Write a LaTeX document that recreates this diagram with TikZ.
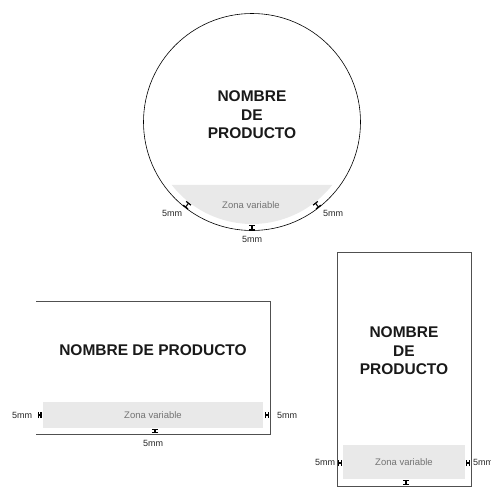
\documentclass[tikz,border=0pt]{standalone}
\usepackage{fontspec}
\setmainfont{Liberation Sans}
\usetikzlibrary{arrows.meta}
\definecolor{zona-gray}{RGB}{233,233,233}
\definecolor{edge-gray}{RGB}{80,80,80}
\tikzset{
  titulo/.style={font=\fontsize{15.5}{18.5}\selectfont\bfseries, align=center, text=black!90, inner sep=0pt},
  zona/.style={font=\fontsize{9.5}{11}\selectfont, text=black!55, inner sep=0pt},
  medida/.style={font=\fontsize{9}{11}\selectfont, text=black!85, inner sep=0pt},
  marca/.style={{Bar[width=6pt, line width=1.2pt]}-{Bar[width=6pt, line width=1.2pt]}, line width=1.1pt}
}

\begin{document}
\begin{tikzpicture}[x=1pt, y=-1pt]
\useasboundingbox (0,0) rectangle (491,490);

\coordinate (centro) at (252,122);
\fill[zona-gray] (centro) ++(38.1:102) arc[start angle=38.1, end angle=141.9, radius=102] -- cycle;
\draw[line width=0.6pt] (centro) circle[radius=108.5];
\node[titulo] (titulo-c) at (252,115) {NOMBRE\\DE\\PRODUCTO};
\node[zona] (zona-c) at (251,205) {Zona variable};
\path (centro) ++(128:102.5) coordinate (ci1) (centro) ++(128:108.5) coordinate (ce1);
\path (centro) ++(90:102.5) coordinate (ci2) (centro) ++(90:108.5) coordinate (ce2);
\path (centro) ++(52:102.5) coordinate (ci3) (centro) ++(52:108.5) coordinate (ce3);
\draw[marca] (ci1) -- (ce1);
\draw[marca] (ci2) -- (ce2);
\draw[marca] (ci3) -- (ce3);
\node[medida] (mm-c1) at (172,213) {5mm};
\node[medida] (mm-c2) at (252,239) {5mm};
\node[medida] (mm-c3) at (333,213) {5mm};

\fill[zona-gray] (43,402) rectangle (263,428);
\draw[edge-gray, line width=0.8pt] (36,301) -- (270,301) -- (270,434) -- (36,434);
\node[titulo] (titulo-h) at (153,350) {NOMBRE DE PRODUCTO};
\node[zona] (zona-h) at (153,415) {Zona variable};
\coordinate (hi1) at (37.5,415); \coordinate (hd1) at (41.5,415);
\coordinate (hi2) at (265,415); \coordinate (hd2) at (269,415);
\coordinate (hi3) at (155,428.5); \coordinate (hd3) at (155,433);
\draw[marca] (hi1) -- (hd1);
\draw[marca] (hi2) -- (hd2);
\draw[marca] (hi3) -- (hd3);
\node[medida] (mm-h1) at (22,415) {5mm};
\node[medida] (mm-h2) at (287,415) {5mm};
\node[medida] (mm-h3) at (153,443) {5mm};

\fill[zona-gray] (343,445) rectangle (465,479);
\draw[edge-gray, line width=0.8pt] (337,252) rectangle (471,486);
\node[titulo] (titulo-v) at (404,351) {NOMBRE\\DE\\PRODUCTO};
\node[zona] (zona-v) at (404,462) {Zona variable};
\coordinate (vi1) at (338,463); \coordinate (vd1) at (342,463);
\coordinate (vi2) at (466,463); \coordinate (vd2) at (470,463);
\coordinate (vi3) at (406,480); \coordinate (vd3) at (406,485);
\draw[marca] (vi1) -- (vd1);
\draw[marca] (vi2) -- (vd2);
\draw[marca] (vi3) -- (vd3);
\node[medida] (mm-v1) at (325,462) {5mm};
\node[medida] (mm-v2) at (483,462) {5mm};
\node[medida] (mm-v3) at (406,495) {5mm};
\end{tikzpicture}
\end{document}
